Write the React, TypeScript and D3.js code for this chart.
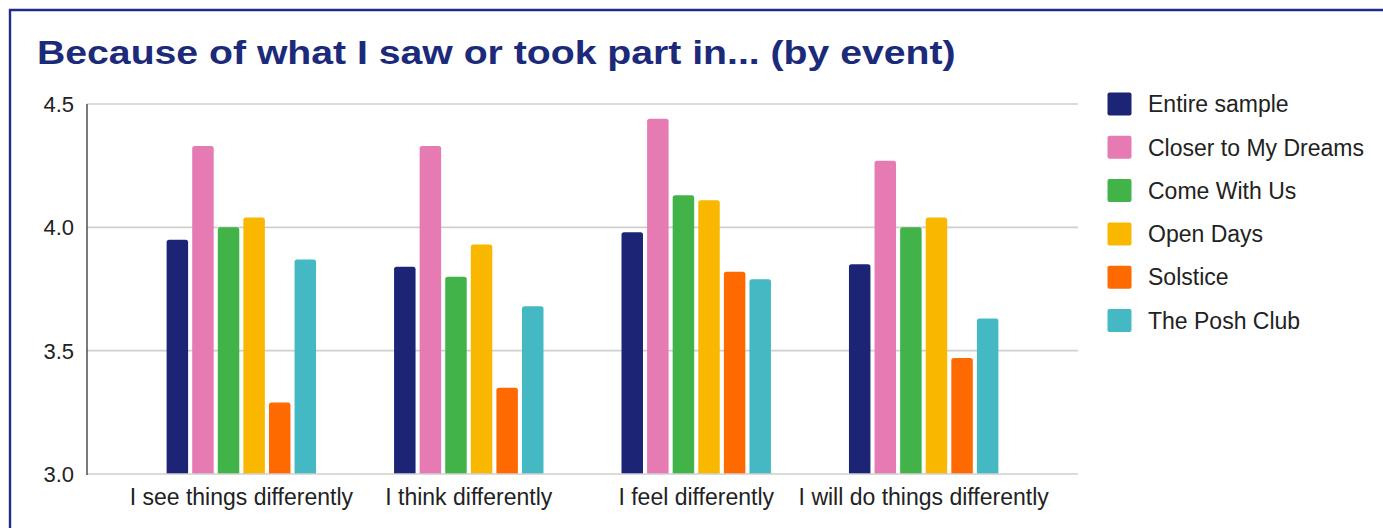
import React from "react";
import * as d3 from "d3";

const categories = [
  "I see things differently",
  "I think differently",
  "I feel differently",
  "I will do things differently",
];
const seriesNames = [
  "Entire sample",
  "Closer to My Dreams",
  "Come With Us",
  "Open Days",
  "Solstice",
  "The Posh Club",
];
const seriesColors = ["#1c2575", "#e67ab2", "#41b349", "#f9b700", "#ff6a00", "#45b9c3"];
const entireSample = [3.95, 3.84, 3.98, 3.85];
const closerToMyDreams = [4.33, 4.33, 4.44, 4.27];
const comeWithUs = [4.0, 3.8, 4.13, 4.0];
const openDays = [4.04, 3.93, 4.11, 4.04];
const solstice = [3.29, 3.35, 3.82, 3.47];
const thePoshClub = [3.87, 3.68, 3.79, 3.63];
const yTicks = [3.0, 3.5, 4.0, 4.5];

const seriesValues = [entireSample, closerToMyDreams, comeWithUs, openDays, solstice, thePoshClub];

const W = 1383;
const H = 528;
const left = 87;
const right = 1078;
const top = 104;
const bottom = 474;
const FONT = "'Liberation Sans', Arial, sans-serif";

export default function App() {
  const y = d3.scaleLinear().domain([3, 4.5]).range([bottom, top]);
  const x0 = d3.scaleBand<string>().domain(categories).range([left, right]).paddingInner(0.343).paddingOuter(0.35);
  const x1 = d3
    .scaleBand<string>()
    .domain(seriesNames)
    .range([0, x0.bandwidth()])
    .paddingInner(0.16)
    .paddingOuter(0);

  return (
    <svg
      width={W}
      height={H}
      style={{ position: "absolute", left: 0, top: 0, background: "#fff" }}
      fontFamily={FONT}
    >
      <rect x={0} y={0} width={W} height={H} fill="#fff" />
      <path d={`M10,${H + 5} L10,10 L${W + 5},10`} fill="none" stroke="#1f2d86" strokeWidth={2.4} />
      <g transform="translate(37,63.5) scale(1.17,1)">
        <text x={0} y={0} fontSize={33.5} fontWeight="bold" fill="#1c2a7a">
          Because of what I saw or took part in... (by event)
        </text>
      </g>
      {yTicks.map((t) => (
        <g key={t}>
          {t !== 3 && (
            <line x1={left} x2={right} y1={y(t)} y2={y(t)} stroke="#cfcfcf" strokeWidth={1.6} />
          )}
          <text x={74} y={y(t)} dy="0.36em" textAnchor="end" fontSize={22} fill="#222">
            {t.toFixed(1)}
          </text>
        </g>
      ))}
      {categories.map((c, ci) => (
        <g key={c} transform={`translate(${x0(c)},0)`}>
          {seriesNames.map((s, si) => {
            const v = seriesValues[si][ci];
            const bx = x1(s)!;
            const bw = x1.bandwidth();
            const by = y(v);
            const r = 2.5;
            const d = `M${bx},${bottom} L${bx},${by + r} Q${bx},${by} ${bx + r},${by} L${bx + bw - r},${by} Q${bx + bw},${by} ${bx + bw},${by + r} L${bx + bw},${bottom} Z`;
            return <path key={s} d={d} fill={seriesColors[si]} />;
          })}
          <text x={x0.bandwidth() / 2} y={505} textAnchor="middle" fontSize={23} fill="#222">
            {c}
          </text>
        </g>
      ))}
      <line x1={left} x2={right} y1={bottom} y2={bottom} stroke="#cfcfcf" strokeWidth={1.6} />
      <line x1={left} x2={left} y1={top} y2={bottom + 1} stroke="#333" strokeWidth={1.3} />
      {seriesNames.map((s, i) => {
        const cy = 104 + i * 43.3;
        return (
          <g key={s}>
            <rect x={1107.5} y={cy - 11.5} width={24} height={23} rx={2} fill={seriesColors[i]} />
            <text x={1148} y={cy} dy="0.36em" fontSize={23} fill="#222">
              {s}
            </text>
          </g>
        );
      })}
    </svg>
  );
}
